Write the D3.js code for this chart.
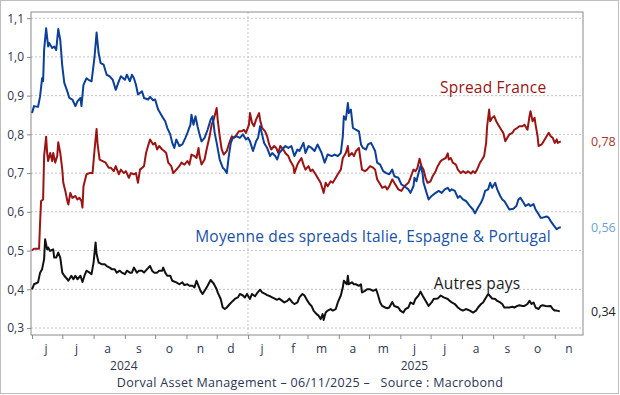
<!DOCTYPE html>
<html>
<head>
<meta charset="utf-8">
<script src="https://cdn.jsdelivr.net/npm/d3@7"></script>
<style>
  body { margin: 0; background: #fff; }
  svg { display: block; font-family: "Open Sans", sans-serif; }
</style>
</head>
<body>
<div class="chart"></div>
<script>
const width = 620;
const height = 395;
const plot = { left: 31, top: 12, right: 583, bottom: 335 };

// [jours depuis le 1er juin 2024, spread en %]
const startDate = new Date(2024, 5, 1);

const franceSpread = [[0,.500],[2,.505],[7,.505],[8,.572],[9,.628],[11,.632],[12,.744],[14,.794],[15,.752],[16,.731],[18,.752],[20,.731],[21,.752],[23,.727],[25,.744],[26,.780],[28,.752],[30,.709],[31,.675],[33,.654],[35,.628],[36,.619],[38,.649],[40,.636],[43,.641],[45,.632],[47,.636],[49,.628],[50,.611],[51,.666],[54,.697],[57,.700],[60,.700],[62,.761],[64,.814],[65,.774],[67,.735],[70,.731],[73,.727],[76,.714],[78,.714],[81,.705],[83,.718],[86,.697],[88,.709],[91,.700],[93,.705],[96,.688],[98,.700],[101,.697],[103,.700],[105,.675],[107,.709],[111,.718],[113,.752],[115,.770],[117,.787],[120,.774],[122,.778],[124,.761],[126,.770],[129,.761],[131,.757],[133,.752],[135,.727],[138,.718],[140,.700],[143,.709],[146,.718],[148,.727],[151,.722],[154,.731],[156,.722],[158,.748],[161,.744],[163,.739],[165,.765],[166,.744],[168,.722],[171,.735],[173,.761],[176,.795],[178,.825],[180,.838],[183,.868],[184,.838],[186,.795],[188,.761],[190,.748],[193,.757],[195,.774],[198,.795],[200,.791],[203,.800],[205,.808],[208,.808],[210,.812],[212,.804],[215,.825],[216,.855],[218,.830],[220,.821],[222,.838],[225,.855],[226,.838],[228,.817],[231,.808],[233,.795],[235,.774],[237,.761],[240,.770],[242,.765],[244,.752],[246,.770],[249,.761],[251,.752],[254,.744],[256,.731],[259,.718],[260,.700],[263,.722],[265,.731],[267,.739],[269,.722],[271,.709],[274,.718],[276,.705],[278,.709],[281,.697],[283,.688],[286,.675],[288,.658],[289,.649],[291,.675],[293,.666],[296,.679],[298,.675],[301,.688],[303,.697],[306,.709],[308,.739],[311,.752],[313,.770],[314,.744],[317,.752],[319,.744],[321,.757],[324,.765],[325,.744],[327,.709],[330,.705],[332,.709],[335,.718],[338,.714],[340,.709],[342,.684],[345,.671],[347,.662],[350,.666],[352,.658],[354,.666],[357,.684],[359,.675],[363,.658],[366,.654],[369,.666],[373,.675],[375,.688],[378,.709],[380,.705],[382,.714],[384,.737],[386,.718],[388,.709],[390,.688],[392,.675],[395,.679],[397,.692],[400,.705],[402,.718],[405,.731],[407,.735],[410,.739],[412,.751],[413,.735],[415,.739],[417,.727],[420,.722],[422,.709],[425,.700],[427,.705],[430,.700],[432,.705],[435,.699],[437,.705],[439,.700],[441,.709],[444,.727],[446,.735],[448,.744],[450,.778],[451,.821],[453,.864],[454,.834],[456,.843],[458,.847],[460,.834],[462,.825],[465,.812],[467,.804],[469,.782],[471,.791],[473,.800],[476,.804],[478,.812],[481,.817],[483,.821],[486,.821],[488,.825],[491,.812],[493,.847],[494,.860],[496,.834],[498,.843],[499,.825],[501,.795],[502,.770],[505,.774],[507,.782],[510,.795],[512,.804],[514,.795],[516,.791],[518,.778],[520,.787],[521,.778],[524,.782]];

const peripherySpread = [[0,.855],[2,.873],[6,.871],[8,.898],[10,.945],[11,.937],[12,1.018],[14,1.074],[16,1.027],[17,1.036],[20,1.023],[22,1.027],[24,1.018],[26,1.072],[28,1.044],[30,.976],[32,.933],[35,.911],[37,.894],[40,.890],[43,.873],[45,.885],[48,.894],[49,.873],[51,.928],[54,.945],[56,.941],[59,.937],[62,1.001],[64,1.063],[66,1.010],[68,.984],[71,.980],[74,.954],[77,.950],[80,.941],[83,.915],[86,.937],[88,.950],[92,.941],[94,.954],[97,.937],[99,.954],[101,.945],[103,.928],[105,.903],[109,.911],[111,.894],[115,.890],[117,.897],[120,.888],[122,.890],[125,.864],[127,.855],[130,.842],[132,.834],[134,.817],[137,.800],[139,.778],[141,.765],[143,.787],[146,.770],[149,.774],[152,.791],[154,.804],[157,.825],[158,.851],[160,.825],[162,.847],[164,.821],[166,.800],[168,.782],[171,.791],[174,.812],[177,.838],[179,.847],[181,.804],[183,.778],[186,.735],[189,.714],[191,.709],[193,.700],[195,.744],[197,.778],[199,.791],[203,.795],[206,.791],[209,.800],[212,.787],[214,.791],[216,.782],[219,.757],[222,.782],[224,.791],[226,.821],[228,.800],[230,.778],[233,.765],[236,.744],[238,.752],[241,.744],[243,.735],[245,.752],[248,.761],[251,.770],[254,.765],[257,.770],[260,.744],[263,.761],[265,.757],[269,.778],[271,.752],[274,.770],[277,.765],[280,.757],[283,.774],[287,.752],[290,.727],[293,.748],[297,.744],[300,.748],[303,.744],[306,.752],[308,.795],[309,.847],[311,.838],[313,.881],[314,.855],[316,.864],[318,.817],[321,.812],[324,.808],[326,.774],[328,.765],[331,.761],[333,.774],[336,.778],[340,.757],[342,.727],[345,.722],[348,.705],[351,.700],[354,.697],[357,.709],[359,.692],[363,.688],[366,.671],[369,.666],[373,.658],[375,.649],[378,.666],[379,.688],[381,.679],[383,.700],[385,.718],[387,.700],[388,.675],[391,.649],[393,.632],[396,.641],[400,.649],[403,.654],[406,.649],[409,.658],[412,.662],[414,.654],[416,.658],[419,.654],[422,.636],[424,.641],[427,.632],[430,.628],[434,.615],[437,.606],[439,.596],[442,.611],[445,.624],[447,.636],[449,.654],[452,.658],[454,.675],[456,.662],[459,.675],[461,.658],[464,.641],[466,.632],[468,.628],[471,.615],[473,.606],[477,.608],[480,.615],[482,.632],[484,.636],[487,.624],[489,.615],[492,.620],[494,.615],[497,.620],[499,.606],[502,.594],[504,.585],[506,.585],[510,.588],[512,.585],[515,.572],[517,.565],[520,.555],[522,.559],[524,.560]];

const otherSpread = [[0,.400],[2,.413],[6,.418],[8,.443],[10,.452],[12,.478],[13,.529],[15,.503],[16,.508],[18,.499],[21,.503],[22,.482],[24,.482],[26,.495],[28,.482],[30,.443],[32,.435],[35,.426],[36,.422],[39,.435],[41,.426],[43,.435],[45,.426],[48,.435],[50,.419],[52,.435],[54,.448],[57,.443],[59,.439],[61,.469],[63,.521],[64,.491],[66,.469],[69,.465],[72,.465],[74,.460],[77,.456],[79,.452],[82,.452],[84,.443],[87,.448],[89,.443],[92,.439],[94,.448],[97,.443],[99,.443],[101,.456],[104,.443],[106,.448],[109,.448],[111,.443],[114,.452],[117,.460],[119,.448],[121,.443],[124,.443],[126,.448],[129,.448],[130,.456],[132,.443],[134,.435],[137,.435],[139,.422],[143,.418],[146,.413],[149,.418],[151,.411],[154,.413],[156,.409],[159,.409],[161,.405],[163,.422],[165,.409],[167,.396],[169,.388],[172,.400],[174,.409],[177,.424],[180,.415],[183,.400],[184,.392],[187,.375],[189,.353],[191,.349],[193,.353],[196,.362],[199,.370],[201,.375],[204,.379],[206,.388],[209,.384],[211,.379],[213,.388],[216,.375],[218,.388],[221,.382],[223,.390],[226,.399],[228,.392],[231,.388],[233,.385],[236,.382],[238,.379],[241,.375],[243,.373],[245,.376],[248,.370],[250,.366],[253,.370],[255,.376],[258,.366],[260,.362],[263,.366],[265,.379],[268,.388],[270,.384],[273,.370],[275,.362],[277,.357],[279,.345],[282,.336],[284,.332],[286,.323],[288,.336],[289,.321],[291,.340],[293,.345],[296,.349],[298,.345],[301,.349],[303,.366],[306,.384],[308,.405],[309,.422],[312,.413],[313,.435],[314,.413],[317,.418],[319,.413],[321,.413],[324,.409],[326,.413],[327,.392],[330,.396],[332,.400],[335,.400],[338,.396],[341,.400],[343,.384],[345,.366],[347,.357],[350,.353],[352,.351],[354,.353],[357,.367],[359,.357],[363,.353],[365,.345],[368,.340],[370,.349],[373,.353],[375,.366],[378,.362],[380,.375],[383,.384],[385,.394],[387,.384],[389,.375],[391,.366],[393,.357],[396,.366],[398,.375],[402,.376],[405,.384],[408,.379],[412,.375],[414,.370],[416,.366],[419,.362],[422,.353],[424,.349],[427,.345],[430,.349],[434,.345],[437,.340],[440,.345],[442,.353],[445,.362],[447,.366],[449,.375],[452,.388],[454,.382],[456,.376],[459,.375],[461,.370],[464,.366],[466,.362],[468,.353],[471,.353],[473,.353],[476,.355],[478,.353],[481,.357],[483,.359],[486,.357],[488,.357],[491,.362],[493,.370],[495,.362],[497,.366],[499,.353],[502,.349],[504,.357],[506,.359],[509,.357],[511,.356],[514,.357],[516,.349],[518,.345],[520,.345],[523,.343]];

const yTicks = [0.3, 0.4, 0.5, 0.6, 0.7, 0.8, 0.9, 1.0, 1.1];
const monthLabels = ["j", "j", "a", "s", "o", "n", "d", "j", "f", "m", "a", "m", "j", "j", "a", "s", "o", "n"];
const yearLabels = [["2024", "2024-08-31"], ["2025", "2025-06-15"]];
const seriesNames = ["Spread France", "Moyenne des spreads Italie, Espagne & Portugal", "Autres pays"];
const footer = "Dorval Asset Management \u2013 06/11/2025 \u2013\u00a0\u00a0 Source : Macrobond";

const parseDay = d3.timeParse("%Y-%m-%d");
const comma = (v, f) => d3.format(f)(v).replace(".", ",");

let svg = d3.select(".chart").append("svg")
    .attr("width", width)
    .attr("height", height);

svg.append("rect")
    .attr("x", 0.5).attr("y", 0.5)
    .attr("width", width - 2).attr("height", height - 2)
    .attr("fill", "#fff")
    .attr("stroke", "#bdbdbd");

let xScale = d3.scaleTime()
    .domain([new Date(2024, 4, 31), new Date(2025, 10, 29)])
    .range([plot.left, plot.right]);
let yScale = d3.scaleLinear()
    .domain([0.282, 1.116])
    .range([plot.bottom, plot.top]);

// grille horizontale pointillee
svg.append("g")
    .selectAll("line")
    .data(yTicks)
    .enter()
    .append("line")
    .attr("x1", plot.left).attr("x2", plot.right)
    .attr("y1", (d) => yScale(d)).attr("y2", (d) => yScale(d))
    .attr("stroke", "#c4c4c4")
    .attr("stroke-dasharray", "2,2");

// separation des annees
svg.append("line")
    .attr("x1", xScale(new Date(2025, 0, 1))).attr("x2", xScale(new Date(2025, 0, 1)))
    .attr("y1", plot.top).attr("y2", plot.bottom)
    .attr("stroke", "#c4c4c4")
    .attr("stroke-dasharray", "2,2");

svg.append("rect")
    .attr("x", plot.left).attr("y", plot.top)
    .attr("width", plot.right - plot.left).attr("height", plot.bottom - plot.top)
    .attr("fill", "none")
    .attr("stroke", "#8a8a8a");

//Create yAxis
let yAxis = d3.axisLeft(yScale)
    .tickValues(yTicks)
    .tickSize(4)
    .tickPadding(3)
    .tickFormat((d) => comma(d, ".1f"));
svg.append("g")
    .attr("transform", "translate(" + plot.left + ",0)")
    .call(yAxis)
    .call((g) => g.select(".domain").remove());

//Create xAxis
let months = d3.timeMonth.range(new Date(2024, 5, 1), new Date(2025, 10, 2));
let xAxis = d3.axisBottom(xScale)
    .tickValues(months)
    .tickSize(4)
    .tickFormat("");
svg.append("g")
    .attr("transform", "translate(0," + plot.bottom + ")")
    .call(xAxis)
    .call((g) => g.select(".domain").remove());

svg.selectAll(".tick line").attr("stroke", "#8a8a8a");
svg.selectAll(".tick text")
    .attr("fill", "#2e3650")
    .attr("font-size", 12)
    .attr("font-family", "'Open Sans', sans-serif");

svg.append("g")
    .selectAll("text")
    .data(months)
    .enter()
    .append("text")
    .attr("x", (d) => xScale(d3.timeDay.offset(d, 14)))
    .attr("y", 352.5)
    .attr("text-anchor", "middle")
    .attr("fill", "#2e3650")
    .attr("font-size", 12)
    .text((d, i) => monthLabels[i]);

svg.append("g")
    .selectAll("text")
    .data(yearLabels)
    .enter()
    .append("text")
    .attr("x", (d) => xScale(parseDay(d[1])))
    .attr("y", 369.5)
    .attr("text-anchor", "middle")
    .attr("fill", "#2e3650")
    .attr("font-size", 12)
    .text((d) => d[0]);

let line = d3.line()
    .x((d) => xScale(d3.timeDay.offset(startDate, d[0])))
    .y((d) => yScale(d[1]));

let series = [
    { data: otherSpread, color: "#111111", text: "#1a1a1a", last: "#222222", name: seriesNames[2], at: ["2025-08-16", 0.416] },
    { data: franceSpread, color: "#9b1414", text: "#9b1414", last: "#a8382b", name: seriesNames[0], at: ["2025-09-01", 0.922] },
    { data: peripherySpread, color: "#0c3f98", text: "#1a52a8", last: "#6aa3d6", name: seriesNames[1], at: ["2025-05-05", 0.535] },
];

svg.append("g")
    .selectAll("path")
    .data(series)
    .enter()
    .append("path")
    .attr("d", (d) => line(d.data))
    .attr("fill", "none")
    .attr("stroke", (d) => d.color)
    .attr("stroke-width", 2)
    .attr("stroke-linejoin", "round");

// noms des series
svg.append("g")
    .selectAll("text")
    .data(series)
    .enter()
    .append("text")
    .attr("x", (d) => xScale(parseDay(d.at[0])))
    .attr("y", (d) => yScale(d.at[1]))
    .attr("dy", "0.35em")
    .attr("text-anchor", "middle")
    .attr("font-size", 15.5)
    .attr("letter-spacing", 0.2)
    .attr("fill", (d) => d.text)
    .text((d) => d.name);

// dernieres valeurs a droite
svg.append("g")
    .selectAll("text")
    .data(series)
    .enter()
    .append("text")
    .attr("x", plot.right + 8)
    .attr("y", (d) => yScale(d.data[d.data.length - 1][1]))
    .attr("dy", "0.35em")
    .attr("font-size", 12.5)
    .attr("fill", (d) => d.last)
    .text((d) => comma(d.data[d.data.length - 1][1], ".2f"));

svg.append("text")
    .attr("x", width / 2)
    .attr("y", 387)
    .attr("text-anchor", "middle")
    .attr("font-size", 12.5)
    .attr("letter-spacing", 0.3)
    .attr("fill", "#2b3556")
    .text(footer);
</script>
</body>
</html>
